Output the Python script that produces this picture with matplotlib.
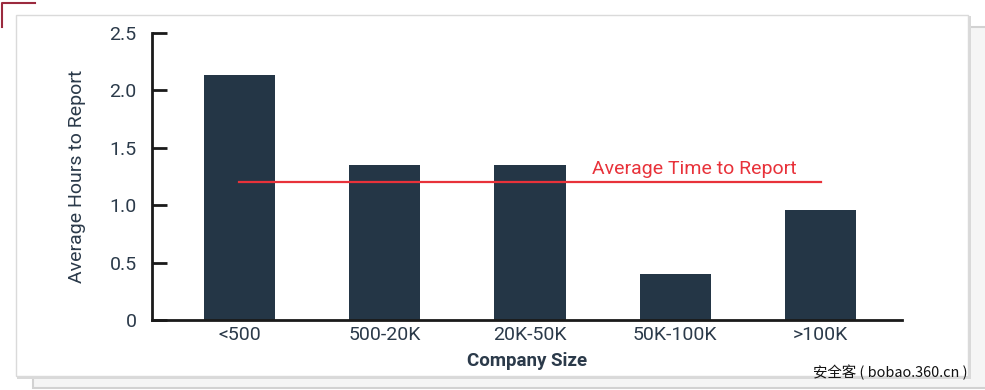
import matplotlib
matplotlib.use("Agg")
import matplotlib.pyplot as plt
from matplotlib.patches import Rectangle
from matplotlib.lines import Line2D

categories = ["<500", "500-20K", "20K-50K", "50K-100K", ">100K"]
hours = [2.13, 1.35, 1.35, 0.40, 0.96]
average_hours = 1.20
y_ticks = [0, 0.5, 1.0, 1.5, 2.0, 2.5]
y_tick_labels = ["0", "0.5", "1.0", "1.5", "2.0", "2.5"]

W, H = 985, 390
fig = plt.figure(figsize=(W / 100, H / 100), dpi=100)
fig.patch.set_facecolor("white")

def px(x0, y0, x1, y1):
    return (x0 / W, 1 - y1 / H, (x1 - x0) / W, (y1 - y0) / H)

# background card behind
bx, by, bw, bh = px(33, 27, 990, 388)
fig.patches.append(Rectangle((bx, by), bw, bh, transform=fig.transFigure,
                             facecolor="#f5f5f5", edgecolor="#d2d2d2", lw=1.5, zorder=0))
# shadow of front card
sx, sy, sw, sh = px(17, 16, 971, 379)
fig.patches.append(Rectangle((sx, sy), sw, sh, transform=fig.transFigure,
                             facecolor="#d9d9d9", edgecolor="none", zorder=1))
# front card
cx, cy, cw, ch = px(16, 15, 968, 376)
fig.patches.append(Rectangle((cx, cy), cw, ch, transform=fig.transFigure,
                             facecolor="white", edgecolor="#dadada", lw=1.0, zorder=2))
# corner mark
fig.lines.append(Line2D([2 / W, 2 / W, 35 / W], [1 - 27 / H, 1 - 2.5 / H, 1 - 2.5 / H],
                        transform=fig.transFigure, color="#9b2a3e", lw=1.5, zorder=3))

ax = fig.add_axes(px(152, 33, 902, 320))
ax.set_zorder(5)
ax.patch.set_alpha(0)

text_color = "#2b3a4a"
bar_color = "#243646"
x = list(range(len(categories)))
ax.bar(x, hours, width=0.49, color=bar_color, zorder=2)
ax.plot([x[0], x[-1]], [average_hours, average_hours], color="#e8323a", lw=1.6, zorder=3)
ax.text(2.43, average_hours + 0.035, "Average Time to Report", color="#e8323a",
        fontsize=14, family="Roboto", ha="left", va="bottom")

ax.set_xlim(-0.602, 4.561)
ax.set_ylim(0, 2.5)
ax.set_yticks(y_ticks)
ax.set_yticklabels(y_tick_labels)
ax.set_xticks(x)
ax.set_xticklabels(categories)

for s in ["top", "right"]:
    ax.spines[s].set_visible(False)
ax.spines["left"].set_linewidth(2)
ax.spines["left"].set_color("#1a1a1a")
ax.spines["bottom"].set_linewidth(2)
ax.spines["bottom"].set_color("#1a1a1a")

ax.tick_params(axis="y", direction="in", length=11, width=2, color="#1a1a1a",
               pad=11, labelsize=14, labelcolor=text_color)
ax.tick_params(axis="x", length=0, pad=4, labelsize=14, labelcolor=text_color)
for lab in ax.get_xticklabels() + ax.get_yticklabels():
    lab.set_family("Roboto")

ax.set_xlabel("Company Size", fontsize=13.5, family="Roboto", fontweight="bold",
              color=text_color, labelpad=6)
ax.set_ylabel("Average Hours to Report", fontsize=14, family="Roboto",
              color=text_color, labelpad=17)

fig.text(968 / W, 1 - 372 / H, "安全客 ( bobao.360.cn )", ha="right", va="center",
         fontsize=10.4, color="#111111", family=["Noto Sans CJK SC", "DejaVu Sans"], zorder=6)

fig.savefig("out.png", dpi=100, facecolor=fig.get_facecolor())
